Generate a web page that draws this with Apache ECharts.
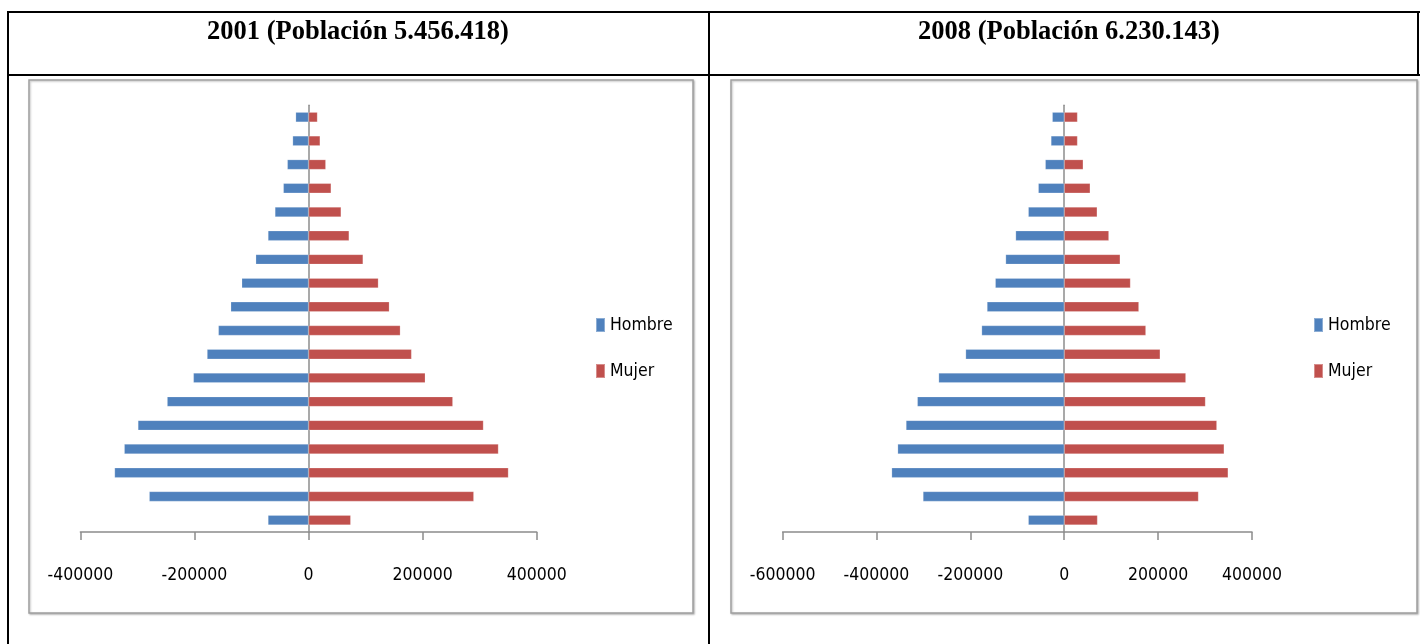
<!DOCTYPE html>
<html>
<head>
<meta charset="utf-8">
<script src="https://cdn.jsdelivr.net/npm/echarts@6/dist/echarts.min.js"></script>
<style>
html,body{margin:0;padding:0;background:#fff;}
#c{width:1420px;height:644px;}
</style>
</head>
<body>
<div id="c"></div>
<script>
// Age groups, bottom (youngest) to top (oldest)
const ageGroups = ['0-4','5-9','10-14','15-19','20-24','25-29','30-34','35-39','40-44','45-49','50-54','55-59','60-64','65-69','70-74','75-79','80-84','85+'];

// 2001
const hombre2001 = [71200, 279400, 340200, 323200, 299200, 248000, 202000, 178000, 158200, 136500, 117200, 92700, 71200, 59000, 44300, 37300, 28000, 22700];
const mujer2001  = [74000, 289800, 350500, 333000, 306700, 253000, 204700, 180700, 161000, 141700, 122500, 95700, 71200, 57200, 39700, 30300, 20400, 15700];

// 2008
const hombre2008 = [76700, 301000, 367800, 355000, 337200, 313100, 267700, 210200, 176100, 164600, 147000, 125000, 103700, 76700, 55400, 40500, 28400, 25600];
const mujer2008  = [71000, 286100, 349300, 340800, 325200, 301000, 259200, 204500, 174000, 159100, 141200, 119300, 95200, 70300, 55400, 40500, 28400, 28400];

const titles = ['2001 (Población 5.456.418)', '2008 (Población 6.230.143)'];
const seriesNames = ['Hombre', 'Mujer'];
const axisRange2001 = [-400000, 400000];
const axisRange2008 = [-600000, 400000];
const tickStep = 200000;

const BLUE = '#4F81BD', RED = '#C0504D';
const AXIS = '#8C8C8C';
const LABEL_FONT = '"DejaVu Sans Condensed", "Liberation Sans", sans-serif';

function xAxisCfg(gridIndex, range) {
  return {
    type: 'value', gridIndex: gridIndex, min: range[0], max: range[1], interval: tickStep,
    splitLine: {show: false},
    axisLine: {show: true, onZero: false, lineStyle: {color: AXIS, width: 1.5}},
    axisTick: {show: true, length: 8, lineStyle: {color: AXIS, width: 1.5}},
    axisLabel: {margin: 34, fontSize: 17.5, color: '#000', fontFamily: LABEL_FONT, formatter: v => String(v)}
  };
}
function yAxisCfg(gridIndex) {
  return {
    type: 'category', gridIndex: gridIndex, data: ageGroups,
    axisLine: {show: true, onZero: true, lineStyle: {color: AXIS, width: 1.5}},
    axisTick: {show: false}, axisLabel: {show: false}, splitLine: {show: false}
  };
}
function bar(name, data, idx, color, neg) {
  return {
    name: name, type: 'bar', xAxisIndex: idx, yAxisIndex: idx,
    data: neg ? data.map(v => -v) : data,
    barWidth: 10, barGap: '-100%',
    itemStyle: {color: color, borderColor: 'rgba(255,255,255,0.35)', borderWidth: 0.6},
    emphasis: {disabled: true}, animation: false
  };
}
function legendCfg(left) {
  return {
    orient: 'vertical', left: left, top: 311, itemWidth: 9, itemHeight: 14, itemGap: 28,
    icon: 'rect', selectedMode: false,
    textStyle: {fontSize: 17.5, color: '#000', fontFamily: LABEL_FONT},
    data: seriesNames
  };
}

const chart = echarts.init(document.getElementById('c'), null, {renderer: 'canvas'});
const L = {type: 'line', silent: true, style: {stroke: '#000', lineWidth: 2}};
chart.setOption({
  animation: false,
  backgroundColor: '#fff',
  grid: [
    {left: 80.4, width: 456.3, top: 105.3, height: 426.7},
    {left: 782.6, width: 469.4, top: 105.3, height: 426.7}
  ],
  xAxis: [xAxisCfg(0, axisRange2001), xAxisCfg(1, axisRange2008)],
  yAxis: [yAxisCfg(0), yAxisCfg(1)],
  legend: [legendCfg(590), legendCfg(1308)],
  series: [
    bar(seriesNames[0], hombre2001, 0, BLUE, true),
    bar(seriesNames[1], mujer2001, 0, RED, false),
    bar(seriesNames[0], hombre2008, 1, BLUE, true),
    bar(seriesNames[1], mujer2008, 1, RED, false)
  ],
  graphic: [
    // chart frames
    {type: 'rect', silent: true, z: -1, shape: {x: 29, y: 80, width: 664, height: 533},
     style: {fill: '#fff', stroke: '#A0A0A0', lineWidth: 1.5, shadowColor: 'rgba(0,0,0,0.25)', shadowBlur: 2, shadowOffsetX: 1, shadowOffsetY: 1}},
    {type: 'rect', silent: true, z: -1, shape: {x: 731, y: 80, width: 686, height: 533},
     style: {fill: '#fff', stroke: '#A0A0A0', lineWidth: 1.5, shadowColor: 'rgba(0,0,0,0.25)', shadowBlur: 2, shadowOffsetX: 1, shadowOffsetY: 1}},
    // table lines
    Object.assign({}, L, {shape: {x1: 7, y1: 12, x2: 1420, y2: 12}}),
    Object.assign({}, L, {shape: {x1: 7, y1: 75, x2: 1420, y2: 75}}),
    Object.assign({}, L, {shape: {x1: 8, y1: 11, x2: 8, y2: 644}}),
    Object.assign({}, L, {shape: {x1: 709, y1: 11, x2: 709, y2: 644}}),
    Object.assign({}, L, {shape: {x1: 1418, y1: 11, x2: 1418, y2: 76}}),
    // titles
    {type: 'text', silent: true, x: 358, y: 32,
     style: {text: titles[0], align: 'center', verticalAlign: 'middle', fill: '#000',
             font: 'bold 26.5px "Liberation Serif", "Times New Roman", serif'}},
    {type: 'text', silent: true, x: 1069, y: 32,
     style: {text: titles[1], align: 'center', verticalAlign: 'middle', fill: '#000',
             font: 'bold 26.5px "Liberation Serif", "Times New Roman", serif'}}
  ]
});
</script>
</body>
</html>
